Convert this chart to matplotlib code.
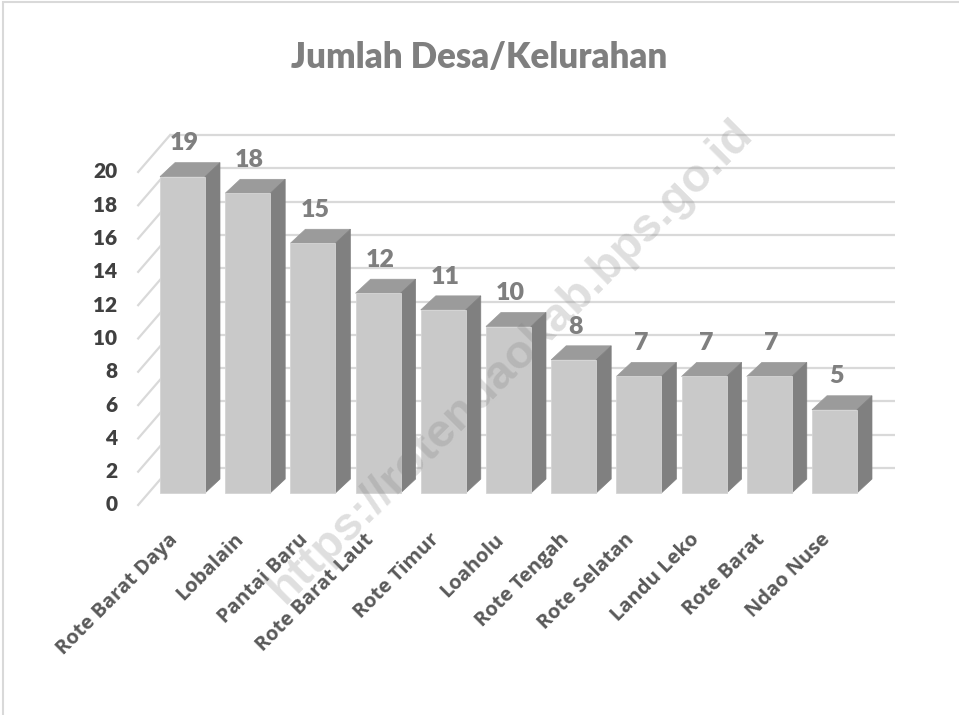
import matplotlib.pyplot as plt
from matplotlib.patches import Polygon, Rectangle

# data
kecamatan = ['Rote Barat Daya', 'Lobalain', 'Pantai Baru', 'Rote Barat Laut',
             'Rote Timur', 'Loaholu', 'Rote Tengah', 'Rote Selatan',
             'Landu Leko', 'Rote Barat', 'Ndao Nuse']
jumlah_desa = [19, 18, 15, 12, 11, 10, 8, 7, 7, 7, 5]
y_ticks = [0, 2, 4, 6, 8, 10, 12, 14, 16, 18, 20]

# pseudo 3D look (offsets in data units, bar front plane = reference)
BAR_W = 0.69
BAR_DX, BAR_DY = 0.23, 0.84          # bar depth
FRONT_X, FRONT_DY = -0.68, -0.72     # front edge of left wall
BACK_X, BACK_DY = -0.19, 1.50        # back wall left edge
BACK_RIGHT = 10.93

FRONT_COL = '#c9c9c9'
TOP_COL = '#9b9b9b'
SIDE_COL = '#808080'
GRID_COL = '#d9d9d9'

W, H = 959, 715
fig = plt.figure(figsize=(W / 100, H / 100), dpi=100)
ax = fig.add_axes([0, 0, 1, 1])
# pixel -> data: x = (px - 182.5) / 65.2, y = (493 - py) / 16.65
ax.set_xlim((0 - 182.5) / 65.2, (W - 182.5) / 65.2)
ax.set_ylim((493 - H) / 16.65, 493 / 16.65)
ax.axis('off')

# back wall gridlines and left wall diagonals
for t in y_ticks:
    ax.plot([BACK_X, BACK_RIGHT], [t + BACK_DY, t + BACK_DY],
            color=GRID_COL, lw=1.6, zorder=1, solid_capstyle='butt')
    ax.plot([FRONT_X, BACK_X], [t + FRONT_DY, t + BACK_DY],
            color=GRID_COL, lw=1.6, zorder=1)
    ax.text(FRONT_X - 0.32, t + FRONT_DY, str(t), ha='right', va='center',
            fontsize=15, fontweight='heavy', color='#404040', family='Lato')

# bars: front face via ax.bar, top and side faces as polygons
xs = list(range(len(jumlah_desa)))
ax.bar(xs, jumlah_desa, width=BAR_W, color=FRONT_COL, edgecolor='#d4d4d4',
       linewidth=0.6, zorder=3)
for i, v in zip(xs, jumlah_desa):
    l, r = i - BAR_W / 2, i + BAR_W / 2
    top = Polygon([(l, v), (r, v), (r + BAR_DX, v + BAR_DY), (l + BAR_DX, v + BAR_DY)],
                  closed=True, facecolor=TOP_COL, edgecolor=TOP_COL, lw=0.5, zorder=2)
    side = Polygon([(r, 0), (r + BAR_DX, BAR_DY), (r + BAR_DX, v + BAR_DY), (r, v)],
                   closed=True, facecolor=SIDE_COL, edgecolor=SIDE_COL, lw=0.5, zorder=2)
    ax.add_patch(top)
    ax.add_patch(side)
    ax.text(i + 0.03, v + 2.0, str(v), ha='center', va='center', fontsize=18,
            fontweight='heavy', color='#7f7f7f', family='Lato')
    ax.text(i - 0.22, -2.2, kecamatan[i], rotation=45, rotation_mode='anchor',
            ha='right', va='top', fontsize=14.5, fontweight='bold',
            color='#595959', family='Open Sans')

# title
fig.text(0.5, 1 - 58 / H, 'Jumlah Desa/Kelurahan', ha='center', va='center',
         fontsize=25, fontweight='heavy', color='#7f7f7f', family='Lato')

# watermark
fig.text(0.533, 1 - 362 / H, 'https://rotendaokab.bps.go.id', rotation=45,
         ha='center', va='center', fontsize=34, fontweight='bold',
         color='#808080', alpha=0.25, family='Liberation Sans', zorder=10)

# frame (only top and left edges are visible)
fig.patches.append(Rectangle((3 / W, -0.1), 1.1, 1 - 2 / H + 0.1, transform=fig.transFigure,
                             fill=False, edgecolor='#d9d9d9', lw=1.5))

fig.savefig('out.png', dpi=100, facecolor='white')
